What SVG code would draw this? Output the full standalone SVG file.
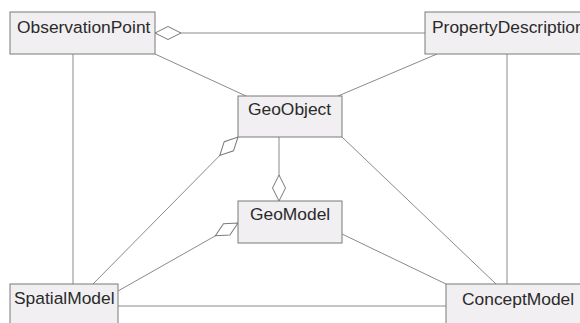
<svg xmlns="http://www.w3.org/2000/svg" width="580" height="323" viewBox="0 0 580 323">
<style>
.box{fill:#f1eff1;stroke:#7a7a7a;stroke-width:1}
.lbl{font-family:"Liberation Sans",Arial,sans-serif;font-size:17.4px;fill:#2a2a2a}
.c{stroke:#8a8a8a;stroke-width:1;fill:none}
.agg{marker-start:url(#dia)}
</style>
<defs>
<marker id="dia" markerUnits="userSpaceOnUse" markerWidth="28" markerHeight="16" viewBox="-1 -8 28 16" refX="0" refY="0" orient="auto">
<path d="M0,0 L13,-6.5 L26,0 L13,6.5 Z" fill="#fff" stroke="#7a7a7a" stroke-width="1"/>
</marker>
</defs>
<rect width="580" height="323" fill="#fff"/>
<g id="connectors">
<line class="c agg" x1="155" y1="33" x2="425" y2="33"/>
<line class="c" x1="155" y1="54" x2="246" y2="96"/>
<line class="c" x1="437" y1="54" x2="338" y2="96"/>
<line class="c" x1="73" y1="54" x2="73" y2="284"/>
<line class="c" x1="507" y1="54" x2="507" y2="284"/>
<line class="c agg" x1="279" y1="201" x2="279" y2="137"/>
<line class="c agg" x1="238" y1="137" x2="93" y2="284"/>
<line class="c agg" x1="238" y1="223" x2="118" y2="291"/>
<line class="c" x1="118" y1="306" x2="446" y2="306"/>
<line class="c" x1="342" y1="234" x2="446" y2="284"/>
<line class="c" x1="342" y1="137" x2="496" y2="284"/>
</g>
<g id="ObservationPoint">
<rect class="box" x="10" y="12" width="145" height="42"/>
<text class="lbl" x="17" y="32.5">ObservationPoint</text>
</g>
<g id="PropertyDescription">
<rect class="box" x="425" y="12" width="170" height="42"/>
<text class="lbl" x="432" y="32.5">PropertyDescription</text>
</g>
<g id="GeoObject">
<rect class="box" x="238" y="96" width="104" height="41"/>
<text class="lbl" x="248" y="115">GeoObject</text>
</g>
<g id="GeoModel">
<rect class="box" x="238" y="201" width="104" height="42"/>
<text class="lbl" x="250" y="220">GeoModel</text>
</g>
<g id="SpatialModel">
<rect class="box" x="10" y="284" width="108" height="50"/>
<text class="lbl" x="14" y="304">SpatialModel</text>
</g>
<g id="ConceptModel">
<rect class="box" x="446" y="284" width="150" height="50"/>
<text class="lbl" x="462" y="305">ConceptModel</text>
</g>
</svg>
